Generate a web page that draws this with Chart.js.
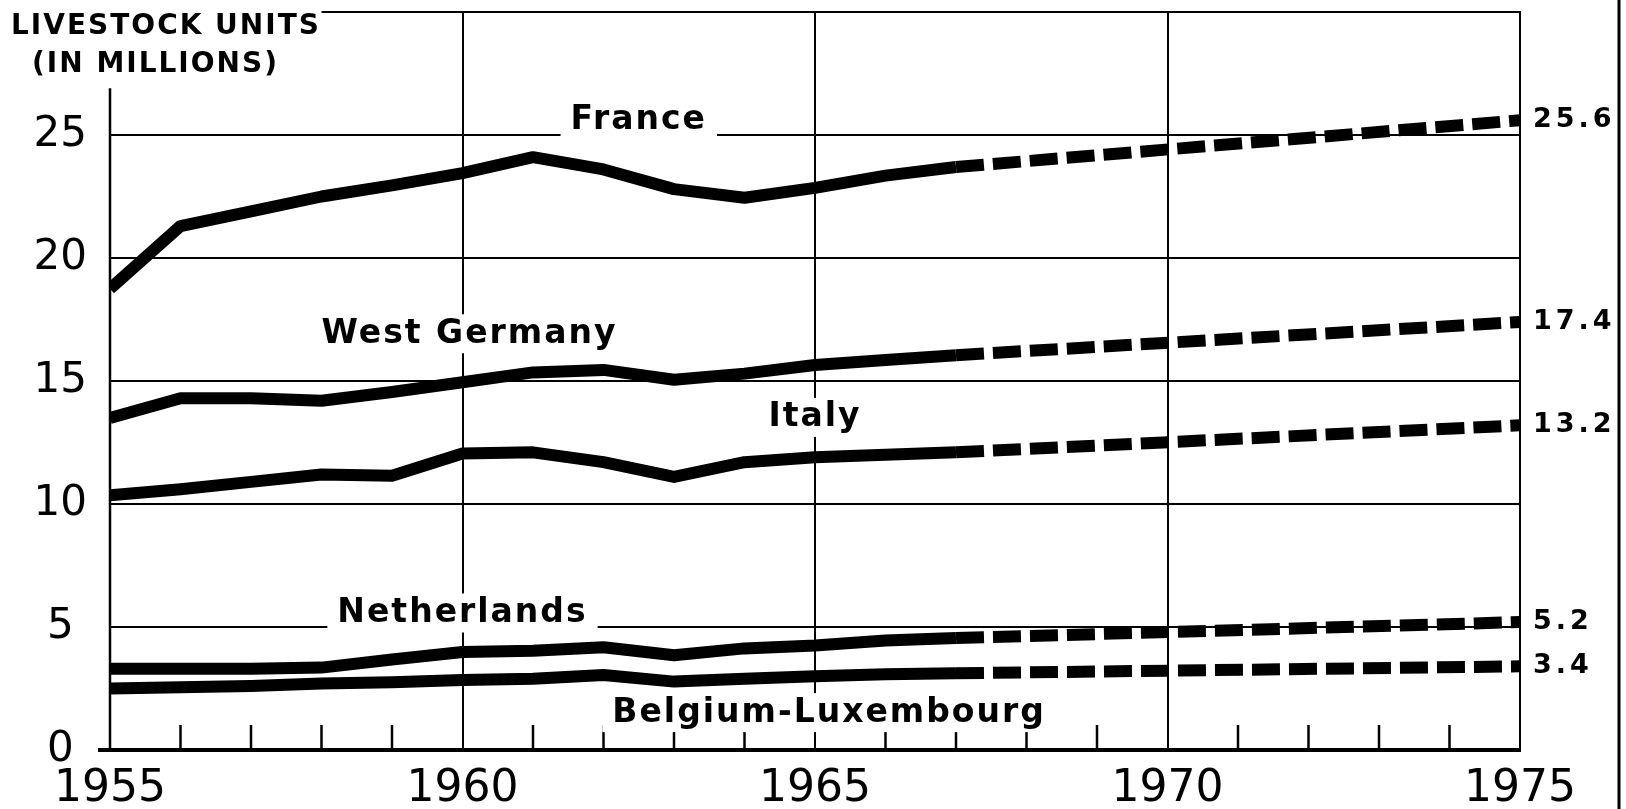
<!DOCTYPE html>
<html>
<head>
<meta charset="utf-8">
<script src="https://cdn.jsdelivr.net/npm/chart.js@4.4.0/dist/chart.umd.min.js"></script>
<style>
  html, body { margin: 0; padding: 0; background: #fff; }
</style>
</head>
<body>
<canvas id="livestockChart" width="1626" height="809"></canvas>
<script>
// years with recorded values; the last entry is the 1975 projection
const years = [1955, 1956, 1957, 1958, 1959, 1960, 1961, 1962, 1963, 1964, 1965, 1966, 1967, 1975];
const lastActualYear = 1967;

const france      = [18.75, 21.3, 21.9, 22.5, 22.95, 23.45, 24.1, 23.6, 22.8, 22.45, 22.85, 23.35, 23.7, 25.6];
const westGermany = [13.5, 14.3, 14.3, 14.2, 14.55, 14.95, 15.35, 15.45, 15.05, 15.3, 15.65, 15.85, 16.05, 17.4];
const italy       = [10.35, 10.6, 10.9, 11.2, 11.15, 12.05, 12.1, 11.7, 11.1, 11.7, 11.9, 12.0, 12.1, 13.2];
const netherlands = [3.3, 3.3, 3.3, 3.35, 3.68, 3.98, 4.03, 4.18, 3.85, 4.13, 4.25, 4.45, 4.55, 5.2];
const belgiumLux  = [2.5, 2.55, 2.6, 2.7, 2.75, 2.85, 2.9, 3.05, 2.78, 2.9, 3.0, 3.08, 3.12, 3.4];

const countries = ['France', 'West Germany', 'Italy', 'Netherlands', 'Belgium-Luxembourg'];
const seriesValues = [france, westGermany, italy, netherlands, belgiumLux];

const yTickLabels = ['0', '5', '10', '15', '20', '25'];
const xTickLabels = ['1955', '1960', '1965', '1970', '1975'];
const yTitle = ['LIVESTOCK UNITS', '(IN MILLIONS)'];

// where the country names sit, in chart units (year, millions)
const namePlaces = [[1962.5, 25.6], [1960.1, 16.9], [1965.0, 13.5], [1960, 5.55], [1965.2, 1.5]];

const ink = '#000';

const extras = {
  id: 'extras',
  afterDraw(chart) {
    const { ctx, chartArea } = chart;
    const x = chart.scales.x, y = chart.scales.y;
    const y0 = y.getPixelForValue(0);
    ctx.save();
    ctx.strokeStyle = ink;
    ctx.fillStyle = ink;
    ctx.lineCap = 'butt';

    // base line
    ctx.lineWidth = 4;
    ctx.beginPath();
    ctx.moveTo(x.getPixelForValue(1955) - 12, y0);
    ctx.lineTo(chartArea.right + 1, y0);
    ctx.stroke();

    // left axis, starts under the title
    ctx.lineWidth = 2.5;
    ctx.beginPath();
    ctx.moveTo(x.getPixelForValue(1955), y0);
    ctx.lineTo(x.getPixelForValue(1955), y.getPixelForValue(26.9));
    ctx.stroke();

    // top frame, right of the title
    ctx.lineWidth = 2;
    ctx.beginPath();
    ctx.moveTo(x.getPixelForValue(1958.0), y.getPixelForValue(30));
    ctx.lineTo(chartArea.right + 1, y.getPixelForValue(30));
    ctx.stroke();

    // year ticks standing up from the base line
    ctx.lineWidth = 2.5;
    for (let yr = 1956; yr < 1975; yr++) {
      if (yr % 5 === 0) continue;
      const px = x.getPixelForValue(yr);
      ctx.beginPath();
      ctx.moveTo(px, y0);
      ctx.lineTo(px, y0 - 25);
      ctx.stroke();
    }

    // dark edge of the scan on the right
    ctx.lineWidth = 3;
    ctx.beginPath();
    ctx.moveTo(1619, 0);
    ctx.lineTo(1619, 809);
    ctx.stroke();

    // country names on white patches
    ctx.font = 'bold 33px "DejaVu Sans"';
    ctx.letterSpacing = '2px';
    ctx.textBaseline = 'middle';
    ctx.textAlign = 'center';
    countries.forEach((name, i) => {
      const px = x.getPixelForValue(namePlaces[i][0]);
      const py = y.getPixelForValue(namePlaces[i][1]);
      const w = ctx.measureText(name).width;
      ctx.fillStyle = '#fff';
      ctx.fillRect(px - w / 2 - 10, py - 20, w + 20, 39);
      ctx.fillStyle = ink;
      ctx.fillText(name, px, py);
    });

    // projected 1975 values at the right end
    ctx.font = 'bold 27px "DejaVu Sans"';
    ctx.letterSpacing = '4px';
    ctx.textAlign = 'left';
    seriesValues.forEach(vals => {
      const v = vals[vals.length - 1];
      ctx.fillText(v.toFixed(1), chartArea.right + 13, y.getPixelForValue(v));
    });

    // axis title, top left
    ctx.font = 'bold 28px "DejaVu Sans"';
    ctx.letterSpacing = '2px';
    ctx.fillText(yTitle[0], 11, 27);
    ctx.fillText(yTitle[1], 32, 65);
    ctx.restore();
  }
};

new Chart(document.getElementById('livestockChart').getContext('2d'), {
  type: 'line',
  data: {
    datasets: countries.map((name, i) => ({
      label: name,
      data: years.map((yr, j) => ({ x: yr, y: seriesValues[i][j] })),
      borderColor: ink,
      borderWidth: 12,
      borderJoinStyle: 'round',
      borderCapStyle: 'butt',
      pointRadius: 0,
      tension: 0,
      fill: false,
      segment: {
        // projection part is dashed
        borderDash: c => c.p1.parsed.x > lastActualYear ? [28, 9] : undefined
      }
    }))
  },
  options: {
    responsive: false,
    animation: false,
    devicePixelRatio: 1,
    layout: { padding: { top: 12, right: 106, bottom: 0, left: 0 } },
    plugins: { legend: { display: false }, tooltip: { enabled: false } },
    scales: {
      x: {
        type: 'linear',
        min: 1955,
        max: 1975,
        afterFit: s => { s.height = 59; s.paddingLeft = 0; s.paddingRight = 0; },
        border: { display: false },
        grid: {
          drawTicks: false,
          lineWidth: 2,
          color: c => (c.tick && c.tick.value % 5 === 0 && c.tick.value > 1955) ? ink : 'rgba(0,0,0,0)'
        },
        ticks: {
          stepSize: 1,
          autoSkip: false,
          maxRotation: 0,
          padding: 13,
          color: ink,
          font: { family: '"DejaVu Sans"', size: 44 },
          callback: v => xTickLabels.includes(String(v)) ? String(v) : ''
        }
      },
      y: {
        min: 0,
        max: 30,
        afterFit: s => { s.width = 110; s.paddingTop = 0; s.paddingBottom = 0; },
        border: { display: false },
        grid: {
          drawTicks: false,
          lineWidth: 2,
          color: c => (c.tick && c.tick.value > 0 && c.tick.value < 30) ? ink : 'rgba(0,0,0,0)'
        },
        ticks: {
          stepSize: 5,
          crossAlign: 'center',
          padding: 23,
          color: ink,
          font: { family: '"DejaVu Sans"', size: 42 },
          callback: v => yTickLabels.includes(String(v)) ? String(v) : ''
        }
      }
    }
  },
  plugins: [extras]
});
</script>
</body>
</html>
